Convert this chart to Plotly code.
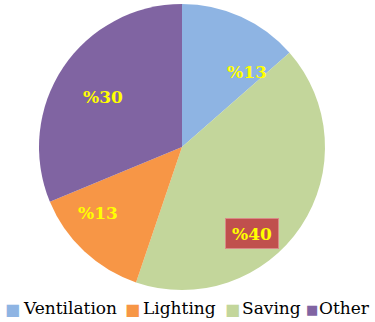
import plotly.graph_objects as go

# Energy share by end use (percent), clockwise from 12 o'clock
categories = ["Ventilation", "Saving", "Lighting", "Other"]
shares = [13, 40, 13, 30]
colors = {
    "Ventilation": "#8EB4E3",
    "Saving": "#C3D69B",
    "Lighting": "#F79646",
    "Other": "#8064A2",
}
legend_order = ["Ventilation", "Lighting", "Saving", "Other"]

W, H = 375, 322
SERIF = "DejaVu Serif"


def px(x):
    return x / W


def py(y):
    return 1 - y / H


fig = go.Figure(
    go.Pie(
        labels=categories,
        values=shares,
        sort=False,
        direction="clockwise",
        rotation=0,
        marker=dict(colors=[colors[c] for c in categories], line=dict(width=0)),
        textinfo="none",
        hoverinfo="label+value",
        domain=dict(x=[px(39), px(325)], y=[py(290), py(4)]),
        showlegend=False,
    )
)

# percentage labels inside the slices
label_pos = {
    "Ventilation": (247, 72),
    "Saving": (252, 233),
    "Lighting": (98, 213),
    "Other": (103, 97),
}
label_font = dict(family=SERIF, size=17, color="#FFFF00")
annotations = []
for cat, val in zip(categories, shares):
    x, y = label_pos[cat]
    ann = dict(
        text=f"<b>%{val}</b>",
        x=px(x), y=py(y), xref="paper", yref="paper",
        xanchor="center", yanchor="middle",
        showarrow=False, font=label_font,
    )
    if cat == "Saving":
        ann.update(bgcolor="#C0504D", bordercolor="#D98A88", borderwidth=1,
                   borderpad=2, width=48, height=25)
    annotations.append(ann)

# legend row along the bottom: a colour square followed by the label
legend_sq_x = {"Ventilation": 3, "Lighting": 123, "Saving": 223, "Other": 304}
legend_txt_x = {"Ventilation": 21, "Lighting": 141, "Saving": 240, "Other": 317}
for cat in legend_order:
    sq = 13 if cat == "Other" else 16
    annotations.append(dict(
        text="■",
        x=px(legend_sq_x[cat]), y=py(309), xref="paper", yref="paper",
        xanchor="left", yanchor="middle", showarrow=False,
        font=dict(family="DejaVu Sans", size=sq, color=colors[cat]),
    ))
    annotations.append(dict(
        text=cat,
        x=px(legend_txt_x[cat]), y=py(308), xref="paper", yref="paper",
        xanchor="left", yanchor="middle", showarrow=False,
        font=dict(family=SERIF, size=17, color="#000000"),
    ))

fig.update_layout(
    width=W, height=H,
    autosize=False,
    margin=dict(l=0, r=0, t=0, b=0),
    paper_bgcolor="white",
    plot_bgcolor="white",
    showlegend=False,
    font=dict(family=SERIF),
    annotations=annotations,
)

fig.write_html("out.html")
